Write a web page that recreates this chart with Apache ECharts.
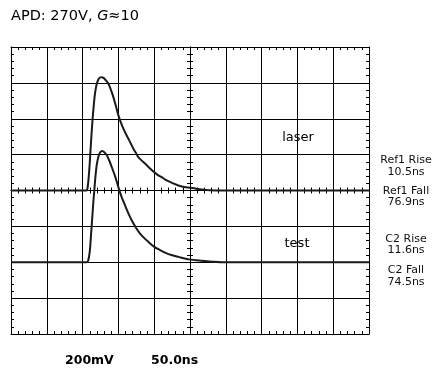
<!DOCTYPE html>
<html><head><meta charset="utf-8">
<script src="https://cdn.jsdelivr.net/npm/echarts@6/dist/echarts.min.js"></script>
<style>html,body{margin:0;padding:0;background:#fff}#c{width:433px;height:369px}</style>
</head><body><div id="c"></div>
<script>
// time relative to screen centre (ns), 50 ns/div
const laserTime = [-250,-144.6,-143.2,-141.8,-140.4,-139.0,-137.6,-136.2,-134.5,-132.7,-130.3,-127.8,-125.7,-123.3,-120.8,-118.0,-114.1,-110.3,-107.1,-103.6,-100.1,-96.6,-93.2,-89.7,-86.2,-82.7,-79.2,-75.7,-72.2,-67.7,-62.8,-56.6,-49.9,-44.7,-39.5,-34.9,-30.3,-23.7,-16.3,-8.4,0,8.4,16.3,27.9,41.9,250];
// laser (Ref1) trace in mV, 200 mV/div
const laserMv = [0,0,12,60,130,220,310,390,470,540,594,620,630,632,628,616,596,560,522,472,420,380,346,316,290,262,234,210,186,168,150,126,102,86,74,62,52,40,28,20,15,10,6,2,0,0];
const testTime = [-250,-144.6,-142.5,-141.1,-139.7,-138.3,-136.5,-135.1,-133.7,-132.0,-130.3,-128.1,-125.7,-122.5,-119.4,-116.3,-113.1,-109.4,-104.7,-100.1,-95.7,-90.8,-86.2,-81.4,-75.7,-69.8,-64.2,-58.2,-49.9,-41.9,-34.9,-25.8,-16.3,-1.0,16.3,30.7,44.7,250];
// test (C2) trace in mV
const testMv = [-400,-400,-394,-370,-330,-250,-150,-70,-2,80,142,186,212,220,212,198,170,132,80,20,-34,-82,-126,-166,-206,-240,-264,-286,-314,-332,-346,-360,-370,-384,-392,-397,-400,-400];
const titleText = 'APD: 270V, ';
const measureLabels = [['Ref1 Rise','10.5ns'],['Ref1 Fall','76.9ns'],['C2 Rise','11.6ns'],['C2 Fall','74.5ns']];
const scaleLabels = ['200mV','50.0ns'];
const traceNames = ['laser','test'];

const chart = echarts.init(document.getElementById('c'), null, {renderer:'canvas'});
const blk = '#000';
function xAx(opts){
  return Object.assign({type:'value',min:-250,max:250,interval:50,
    axisLabel:{show:false},splitLine:{show:false},
    axisLine:{show:true,onZero:false,lineStyle:{color:blk,width:1}},
    axisTick:{show:true,inside:true,length:3,lineStyle:{color:blk}},
    minorTick:{show:true,splitNumber:5,length:3,lineStyle:{color:blk}}},opts);
}
function yAx(opts){
  return Object.assign({type:'value',min:-800,max:800,interval:200,
    axisLabel:{show:false},splitLine:{show:false},
    axisLine:{show:true,onZero:false,lineStyle:{color:blk,width:1}},
    axisTick:{show:true,inside:true,length:3,lineStyle:{color:blk}},
    minorTick:{show:true,splitNumber:5,length:3,lineStyle:{color:blk}}},opts);
}
const txtFont = 'DejaVu Sans, sans-serif';
const graphics = [
  {type:'text',left:11,top:9,style:{text:'{a|'+titleText+'}{g|G}{a|≈10}',rich:{a:{font:'14.5px '+txtFont,fill:'#000'},g:{font:'italic 14.5px '+txtFont,fill:'#000'}}}},
  {type:'text',x:298,y:138,style:{text:traceNames[0],font:'13px '+txtFont,fill:'#000',align:'center',verticalAlign:'middle'}},
  {type:'text',x:297,y:244,style:{text:traceNames[1],font:'13px '+txtFont,fill:'#000',align:'center',verticalAlign:'middle'}},
  {type:'text',x:65,y:361,style:{text:scaleLabels[0],font:'bold 12.5px '+txtFont,fill:'#000',verticalAlign:'middle'}},
  {type:'text',x:151,y:361,style:{text:scaleLabels[1],font:'bold 12.5px '+txtFont,fill:'#000',verticalAlign:'middle'}}
];
const ys = [[160.5,172],[191.5,202.5],[239.5,250.5],[270.5,282]];
measureLabels.forEach((m,i)=>{
  graphics.push({type:'text',x:406,y:ys[i][0],style:{text:m[0],font:'11px '+txtFont,fill:'#111',align:'center',verticalAlign:'middle'}});
  graphics.push({type:'text',x:406,y:ys[i][1],style:{text:m[1],font:'11px '+txtFont,fill:'#111',align:'center',verticalAlign:'middle'}});
});

chart.setOption({
  animation:false,
  backgroundColor:'#fff',
  grid:{left:11,top:47,width:358,height:287,containLabel:false,show:false},
  xAxis:[
    xAx({position:'bottom',splitLine:{show:true,lineStyle:{color:blk,width:1}}}),
    xAx({position:'top'}),
    xAx({position:'bottom',axisLine:{show:true,onZero:true,onZeroAxisIndex:0,lineStyle:{color:blk,width:1}},axisTick:{show:true,inside:true,length:3,lineStyle:{color:blk}}}),
    xAx({position:'bottom',axisLine:{show:true,onZero:true,onZeroAxisIndex:0,lineStyle:{color:blk,width:1}},axisTick:{show:true,inside:false,length:3,lineStyle:{color:blk}}})
  ],
  yAxis:[
    yAx({position:'left',splitLine:{show:true,lineStyle:{color:blk,width:1}}}),
    yAx({position:'right'}),
    yAx({position:'left',axisLine:{show:true,onZero:true,onZeroAxisIndex:0,lineStyle:{color:blk,width:1}},axisTick:{show:true,inside:true,length:3,lineStyle:{color:blk}}}),
    yAx({position:'left',axisLine:{show:true,onZero:true,onZeroAxisIndex:0,lineStyle:{color:blk,width:1}},axisTick:{show:true,inside:false,length:3,lineStyle:{color:blk}}})
  ],
  series:[
    {name:traceNames[0],type:'line',xAxisIndex:0,yAxisIndex:0,showSymbol:false,smooth:0.3,
     data:laserTime.map((t,i)=>[t,laserMv[i]]),lineStyle:{color:'#1a1a1a',width:2},z:5},
    {name:traceNames[1],type:'line',xAxisIndex:0,yAxisIndex:0,showSymbol:false,smooth:0.3,
     data:testTime.map((t,i)=>[t,testMv[i]]),lineStyle:{color:'#1a1a1a',width:2},z:5}
  ],
  graphic:graphics
});
</script></body></html>
